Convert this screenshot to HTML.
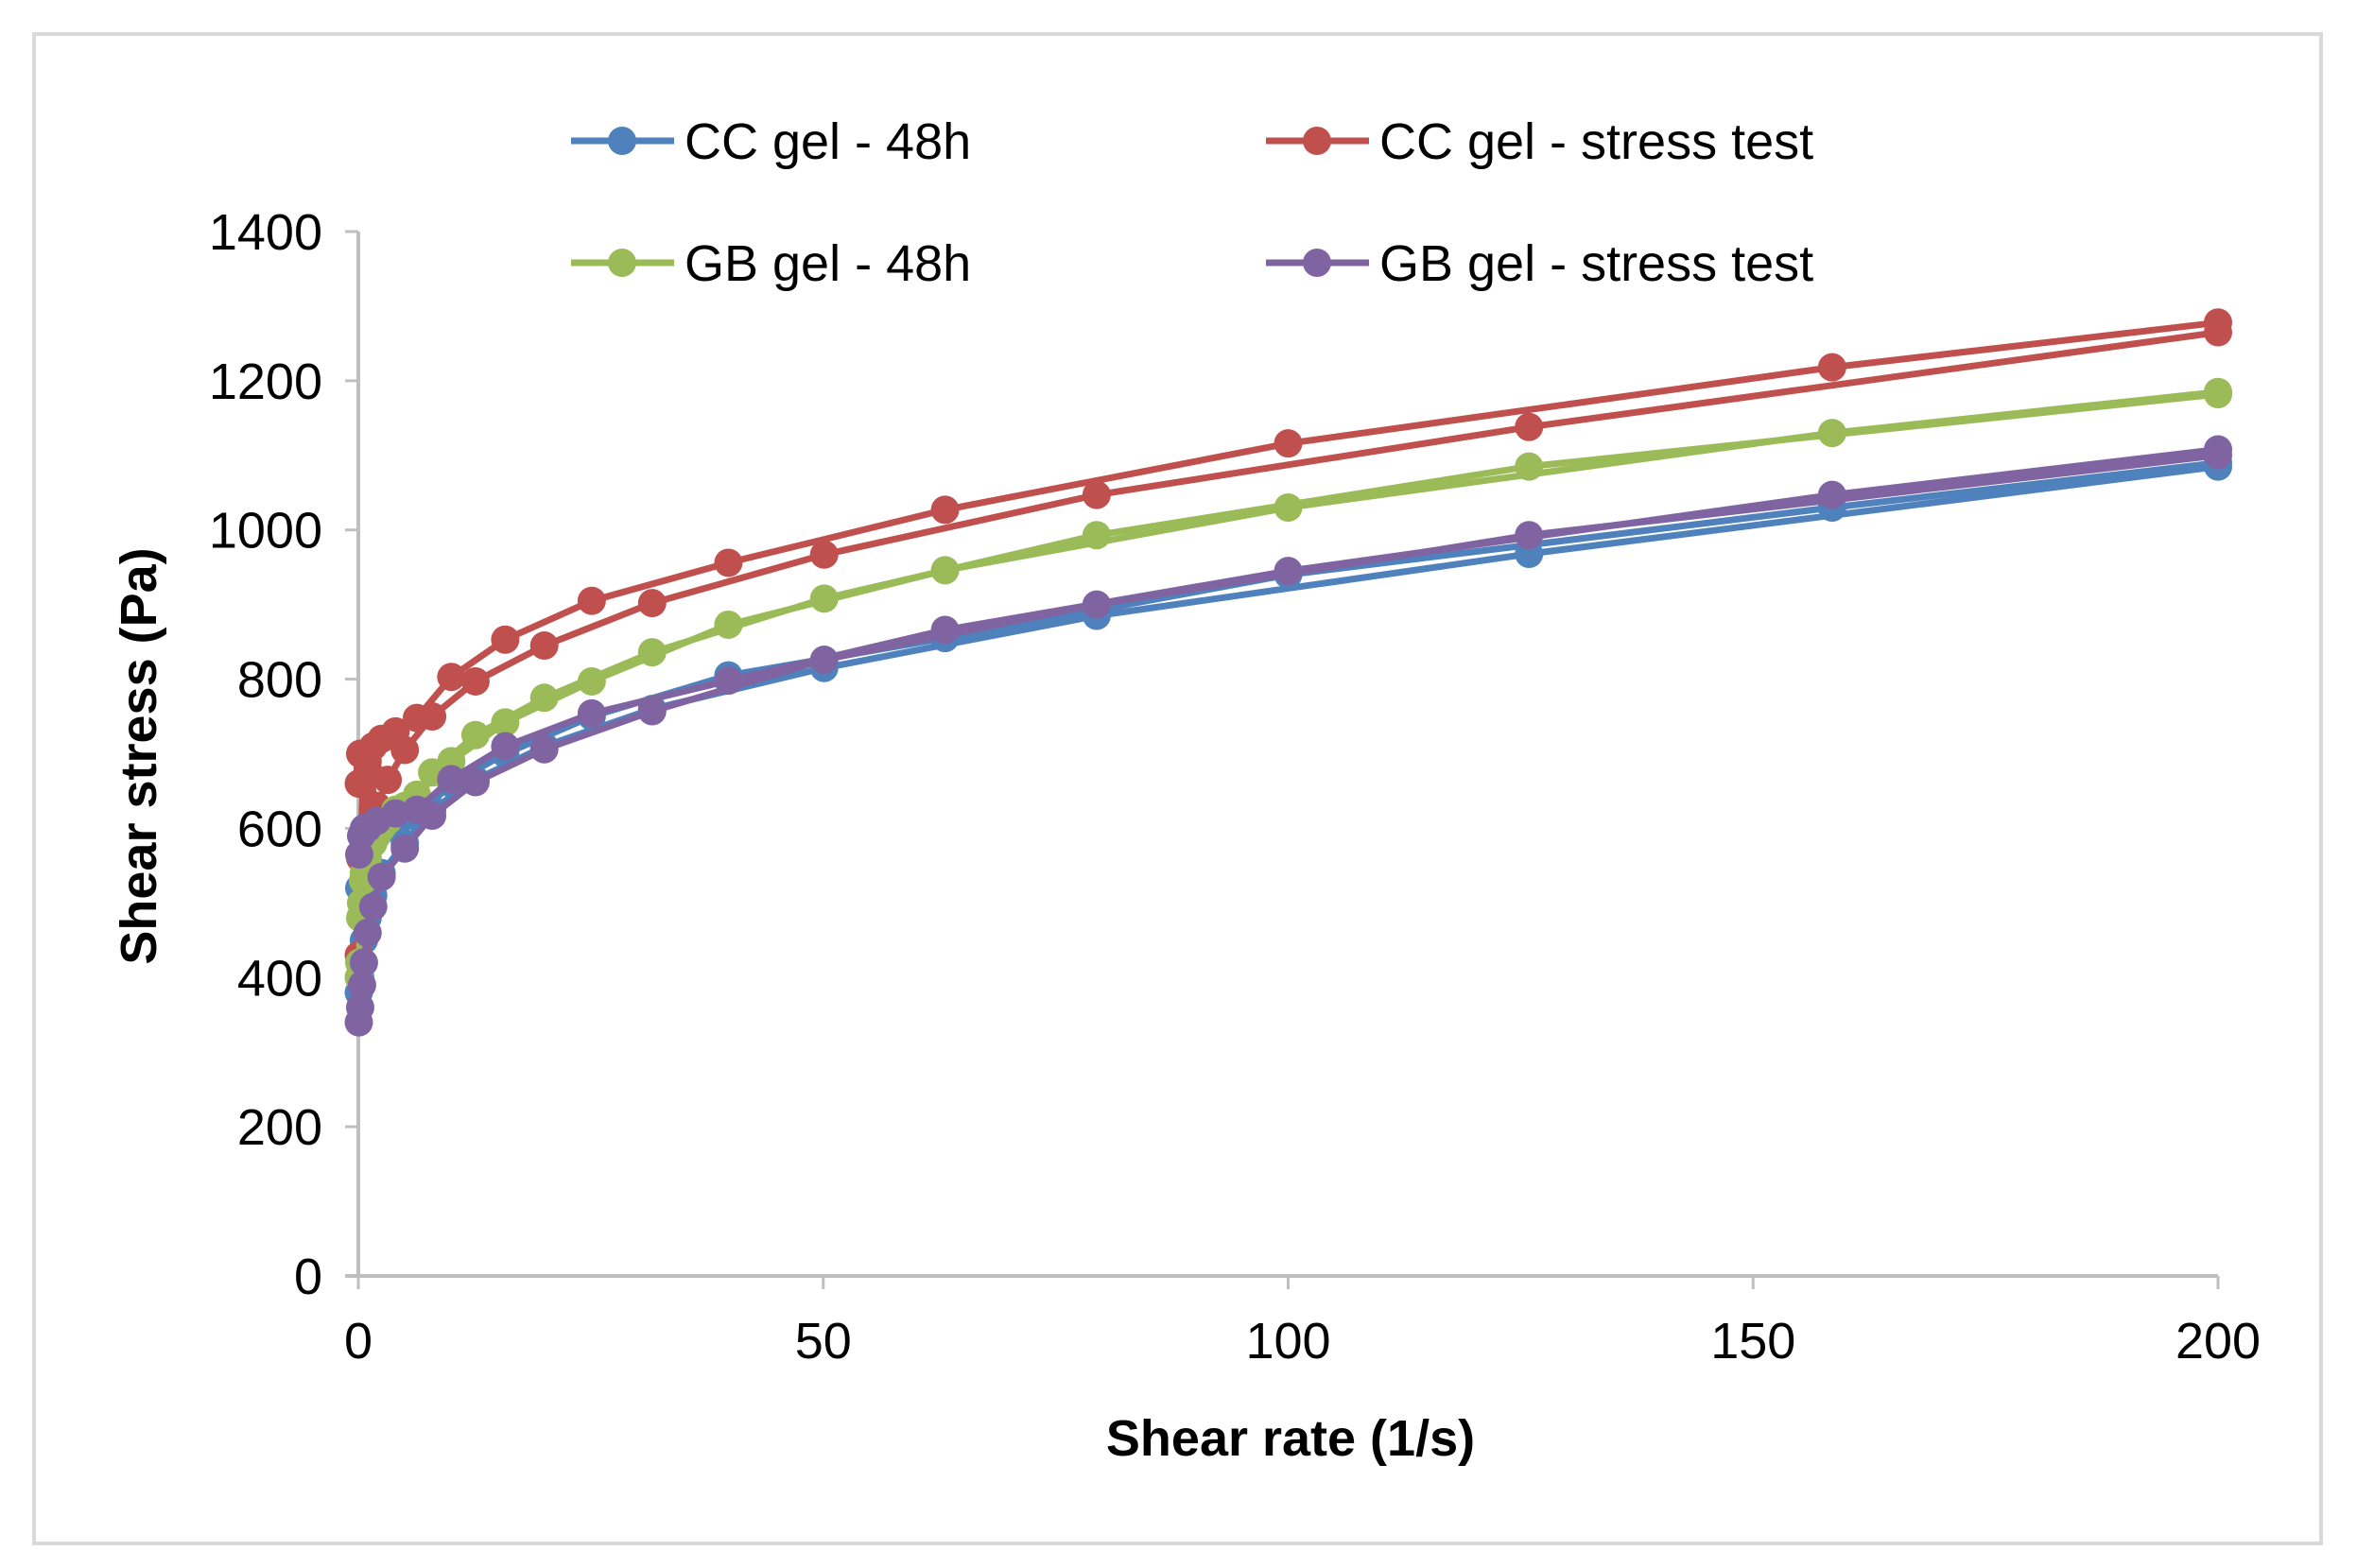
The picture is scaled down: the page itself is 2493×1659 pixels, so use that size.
<!DOCTYPE html>
<html><head><meta charset="utf-8"><style>
html,body{margin:0;padding:0;background:#fff;}
svg{display:block;}
text{font-family:"Liberation Sans Narrow","Liberation Sans",sans-serif;fill:#000;}
</style></head><body>
<svg id="chart" width="2493" height="1659" viewBox="0 0 2493 1659" xmlns="http://www.w3.org/2000/svg">
<rect x="0" y="0" width="2493" height="1659" fill="#fff"/>
<rect x="36" y="36" width="2419" height="1597" fill="#fff" stroke="#d9d9d9" stroke-width="4"/>
<g id="axes"></g>
<g id="series"></g>
<g id="legend"></g>
<text x="1365" y="1540" font-size="54" font-weight="bold" text-anchor="middle">Shear rate (1/s)</text>
<text x="0" y="0" font-size="54" font-weight="bold" text-anchor="middle" transform="translate(165,800) rotate(-90)">Shear stress (Pa)</text>
</svg>
<script>
const xTicks=[0,50,100,150,200];
const yTicks=[0,200,400,600,800,1000,1200,1400];
const seriesNames=["CC gel - 48h","CC gel - stress test","GB gel - 48h","GB gel - stress test"];
const seriesColors=["#4F81BD","#C0504D","#9BBB59","#8064A2"];
// CC gel - 48h (two sweeps)
const ccA_x=[0.1,0.3,0.6,1,2,4,6.3,10,15.8,25.1,39.8,63.1,100,158.5,200];
const ccA_y=[520,560,575,580,590,600,615,660,700,750,805,855,940,1030,1090];
const ccB_x=[0.05,0.2,0.4,0.6,1,1.6,2.5,5,7.94,12.6,20,31.6,50.1,79.4,125.9,200];
const ccB_y=[380,400,420,450,480,510,540,580,625,665,710,760,815,885,968,1085];
// CC gel - stress test
const csA_x=[0.05,0.2,0.5,1,1.6,2.5,4,6.3,10,15.8,25.1,39.8,63.1,100,158.5,200];
const csA_y=[660,700,700,690,710,720,730,748,803,853,905,956,1027,1116,1218,1278];
const csB_x=[0.05,0.2,0.5,1,2,3.16,5,7.94,12.6,20,31.6,50.1,79.4,125.9,200];
const csB_y=[430,560,660,680,630,665,705,750,797,845,902,967,1047,1138,1265];
// GB gel - 48h
const gbA_x=[0.05,0.2,0.5,1,1.6,2.5,4,6.3,10,15.8,25.1,39.8,63.1,100,158.5,200];
const gbA_y=[400,480,530,560,580,600,625,645,690,742,797,873,946,1030,1130,1185];
const gbB_x=[0.1,0.3,0.6,1,2,3.16,5,7.94,12.6,20,31.6,50.1,79.4,125.9,200];
const gbB_y=[420,500,540,560,590,610,630,675,725,775,836,908,993,1085,1182];
// GB gel - stress test
const gsA_x=[0.1,0.3,0.6,1,2,4,6.3,10,15.8,25.1,39.8,63.1,100,158.5,200];
const gsA_y=[565,590,600,600,610,620,625,666,710,754,798,866,945,1047,1108];
const gsB_x=[0.05,0.2,0.4,0.6,1,1.6,2.5,5,7.94,12.6,20,31.6,50.1,79.4,125.9,200];
const gsB_y=[340,360,390,420,460,495,535,573,617,662,706,757,826,900,993,1100];

const NS="http://www.w3.org/2000/svg";
const X0=379,X1=2346,Y0=1350,Y1=245;
function sx(v){return X0+(v-0)/(200-0)*(X1-X0);}
function sy(v){return Y0-(v-0)/(1400-0)*(Y0-Y1);}
function mk(tag,attrs,parent){const e=document.createElementNS(NS,tag);for(const k in attrs)e.setAttribute(k,attrs[k]);parent.appendChild(e);return e;}

const axes=document.getElementById('axes');
const yAxis=mk('line',{x1:X0,y1:Y1,x2:X0,y2:Y0,stroke:'#bfbfbf','stroke-width':4},axes);


const xAxis=mk('line',{x1:X0-14,y1:Y0,x2:X1,y2:Y0,stroke:'#bfbfbf','stroke-width':4},axes);


yTicks.forEach(v=>{
  const t=mk('line',{x1:X0-14,y1:sy(v),x2:X0,y2:sy(v),stroke:'#bfbfbf','stroke-width':3},axes);
  
  
  const l=mk('text',{x:X0-38,y:sy(v)+19,'font-size':54,'text-anchor':'end'},axes);
  l.textContent=v;
  
  
});
xTicks.forEach(v=>{
  const t=mk('line',{x1:sx(v),y1:Y0,x2:sx(v),y2:Y0+14,stroke:'#bfbfbf','stroke-width':3},axes);
  
  
  const l=mk('text',{x:sx(v),y:Y0+87,'font-size':54,'text-anchor':'middle'},axes);
  l.textContent=v;
  
  
});

const sg=document.getElementById('series');
function drawCurve(xs,ys,color,name){
  const g=mk('g',{},sg);
  
  
  const pts=xs.map((x,i)=>sx(x).toFixed(1)+','+sy(ys[i]).toFixed(1)).join(' ');
  const pl=mk('polyline',{points:pts,fill:'none',stroke:color,'stroke-width':7,'stroke-linejoin':'round'},g);
  
  
  xs.forEach((x,i)=>{
    const c=mk('circle',{cx:sx(x),cy:sy(ys[i]),r:15,fill:color},g);
    
    
  });
}
drawCurve(ccA_x,ccA_y,seriesColors[0],'cc-48h-up');
drawCurve(ccB_x,ccB_y,seriesColors[0],'cc-48h-down');
drawCurve(csA_x,csA_y,seriesColors[1],'cc-stress-up');
drawCurve(csB_x,csB_y,seriesColors[1],'cc-stress-down');
drawCurve(gbA_x,gbA_y,seriesColors[2],'gb-48h-up');
drawCurve(gbB_x,gbB_y,seriesColors[2],'gb-48h-down');
drawCurve(gsA_x,gsA_y,seriesColors[3],'gb-stress-up');
drawCurve(gsB_x,gsB_y,seriesColors[3],'gb-stress-down');

const lg=document.getElementById('legend');
const legPos=[[604,149],[1339,149],[604,278],[1339,278]];
seriesNames.forEach((n,i)=>{
  const [lx,ly]=legPos[i];
  const g=mk('g',{},lg);
  
  
  mk('line',{x1:lx,y1:ly,x2:lx+109,y2:ly,stroke:seriesColors[i],'stroke-width':7},g);
  mk('circle',{cx:lx+54,cy:ly,r:15,fill:seriesColors[i]},g);
  const t=mk('text',{x:lx+120,y:ly+19,'font-size':54},g);
  t.textContent=n;
});
</script>
</body></html>
